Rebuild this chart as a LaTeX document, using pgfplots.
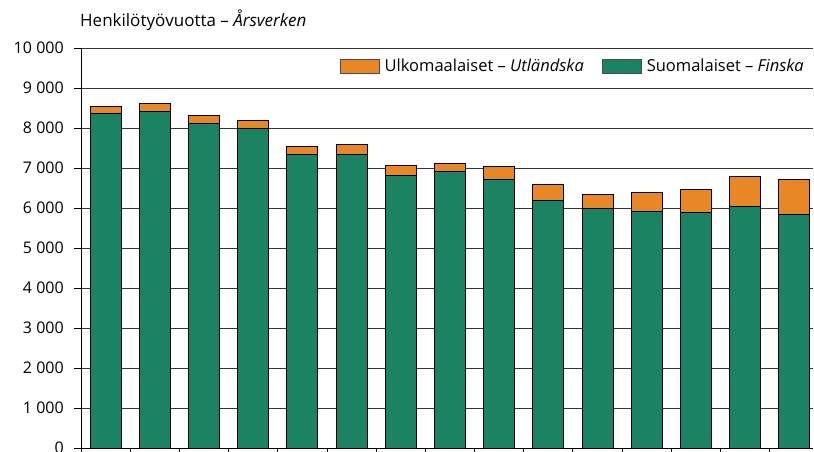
\documentclass[border=0pt]{standalone}
\usepackage{pgfplots}
\pgfplotsset{compat=1.18}
\usepackage{fontspec}
\setmainfont{Open Sans}
\definecolor{fgreen}{HTML}{1B8264}
\definecolor{forange}{HTML}{E98626}
\begin{document}
\fontsize{16.5}{19}\selectfont
\begin{tikzpicture}[x=1pt,y=1pt]
\begin{axis}[
  at={(81pt,3pt)}, anchor=south west,
  scale only axis, width=732pt, height=400pt,
  ybar stacked, bar width=31pt,
  xmin=-0.5, xmax=14.38, ymin=0, ymax=10000,
  xtick={-0.5,0.5,...,14.5}, xticklabels={},
  ytick={0,1000,...,10000}, scaled y ticks=false,
  tick align=outside, major tick length=7pt,
  xtick pos=bottom, ytick pos=left,
  axis lines*=left,
  axis line style={black, line width=1pt},
  tick style={black, line width=0.9pt},
  ymajorgrids, grid style={black!80, line width=0.9pt},
  /pgf/number format/.cd, 1000 sep={\hspace{0.27em}}, assume math mode=true,
  /pgfplots/.cd,
  yticklabel style={font=\fontsize{16}{19}\selectfont, inner sep=0pt, xshift=-10pt},
  legend style={draw=none, fill=none, font=\fontsize{16.5}{19}\selectfont,
    at={(1,1)}, anchor=north east, xshift=-4pt, yshift=-7pt,
    /tikz/every odd column/.append style={column sep=3pt},
    /tikz/every even column/.append style={column sep=16pt}},
  legend columns=2, reverse legend,
  legend image code/.code={\draw[#1, draw=black!70] (0pt,-7pt) rectangle (39pt,7pt);},
  every axis plot/.append style={draw=black, line width=0.9pt},
]
\addplot[fill=fgreen, draw=black] coordinates {
(0,8360) (1,8410) (2,8110) (3,8000) (4,7340) (5,7340) (6,6825) (7,6908)
(8,6706) (9,6200) (10,5998) (11,5922) (12,5880) (13,6049) (14,5829)};
\addlegendentry{Suomalaiset -- \textit{Finska}}
\addplot[fill=forange, draw=black] coordinates {
(0,175) (1,200) (2,215) (3,200) (4,210) (5,245) (6,240) (7,215)
(8,337) (9,380) (10,337) (11,456) (12,573) (13,749) (14,877)};
\addlegendentry{Ulkomaalaiset -- \textit{Utländska}}
\end{axis}
\node[anchor=base west, inner sep=0pt, font=\fontsize{17}{20}\selectfont] at (80pt,424.5pt) {Henkilötyövuotta -- \textit{Årsverken}};
\pgfresetboundingbox
\useasboundingbox (0,0) rectangle (814pt,451pt);
\end{tikzpicture}
\end{document}
